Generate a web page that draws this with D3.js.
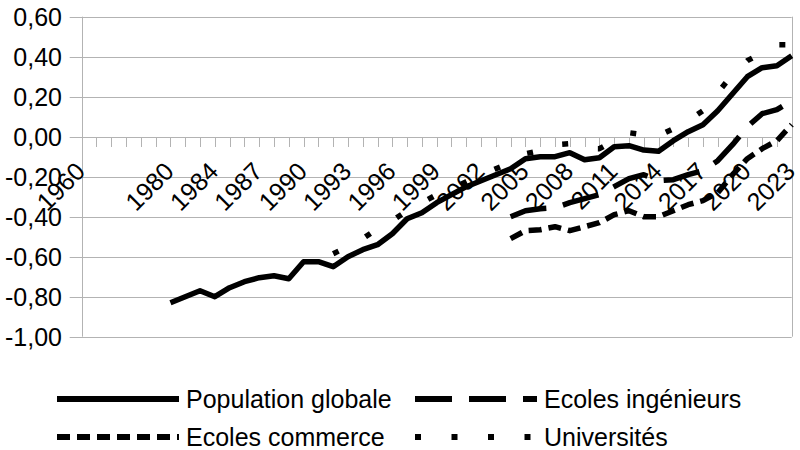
<!DOCTYPE html>
<html>
<head>
<meta charset="utf-8">
<script src="https://cdn.jsdelivr.net/npm/d3@7"></script>
<style>
  body { margin: 0; background: #fff; }
  svg text { font-family: "Liberation Sans", Arial, sans-serif; fill: #000; }
</style>
</head>
<body>
<div id="chart"></div>
<script>
// categories on the x axis (one per point)
const years = ["1960", "1965", "1970", "1975", "1977", "1979", "1980", "1982", "1983"]
    .concat(d3.range(1984, 2024).map(String));
// labels that are actually printed under the axis
const shownLabels = ["1960", "1980", "1984", "1987", "1990", "1993", "1996", "1999", "2002",
    "2005", "2008", "2011", "2014", "2017", "2020", "2023"];
const yTicks = [0.6, 0.4, 0.2, 0, -0.2, -0.4, -0.6, -0.8, -1.0];

const N = null;
const popGlobale = [N, N, N, N, N, N,
    -0.83, -0.80, -0.77, -0.80, -0.755, -0.725, -0.705, -0.695, -0.71, -0.625,
    -0.625, -0.65, -0.60, -0.565, -0.54, -0.485, -0.41, -0.38, -0.33, -0.29,
    -0.25, -0.22, -0.19, -0.16, -0.11, -0.10, -0.10, -0.08, -0.115, -0.105,
    -0.05, -0.045, -0.067, -0.073, -0.02, 0.025, 0.06, 0.13, 0.215, 0.30,
    0.345, 0.355, 0.405];
const ecolesIngenieurs = [N, N, N, N, N, N, N, N, N, N, N, N, N, N, N, N, N, N, N, N,
    N, N, N, N, N, N, N, N, N,
    -0.40, -0.37, -0.36, -0.355, -0.33, -0.31, -0.29, -0.25, -0.21, -0.19, -0.22,
    -0.215, -0.19, -0.17, -0.12, -0.04, 0.05, 0.115, 0.135, 0.18];
const ecolesCommerce = [N, N, N, N, N, N, N, N, N, N, N, N, N, N, N, N, N, N, N, N,
    N, N, N, N, N, N, N, N, N,
    -0.51, -0.47, -0.465, -0.45, -0.47, -0.45, -0.43, -0.39, -0.37, -0.40, -0.40,
    -0.37, -0.34, -0.32, -0.28, -0.19, -0.11, -0.06, -0.02, 0.06];
const universites = [N, N, N, N, N, N, N, N, N, N, N, N, N, N, N, N, N,
    -0.585, -0.55, -0.51, -0.46, -0.42, -0.37, -0.33, -0.29, -0.26, -0.225, -0.19,
    -0.16, -0.13, -0.085, -0.07, -0.04, -0.035, -0.06, -0.06, -0.02, 0.02, 0.01,
    0.005, 0.04, 0.08, 0.13, 0.22, 0.31, 0.38, 0.42, 0.46, 0.46];

const series = [
    {name: "Population globale", values: popGlobale, dash: null},
    {name: "Ecoles ingénieurs", values: ecolesIngenieurs, dash: "37,17"},
    {name: "Ecoles commerce", values: ecolesCommerce, dash: "13,7"},
    {name: "Universités", values: universites, dash: "6,30.5"}
];

const width = 800, height = 450;
const plot = {left: 81.7, right: 791.7, top: 16.7, bottom: 336.7};
const grey = "#b3b3b3";
const fontSize = 25;

const svg = d3.select("#chart").append("svg")
    .attr("width", width)
    .attr("height", height);

const x = d3.scalePoint().domain(years).range([plot.left, plot.right]).padding(0);
const y = d3.scaleLinear().domain([-1, 0.6]).range([plot.bottom, plot.top]);

const fr = d3.formatLocale({decimal: ",", thousands: " ", grouping: [3], currency: ["", " €"], minus: "-"});
const fmt = fr.format(".2f");

// horizontal grid lines
svg.append("g").selectAll("line")
    .data(yTicks)
    .join("line")
    .attr("x1", plot.left - 12)
    .attr("x2", plot.right)
    .attr("y1", d => Math.round(y(d)) + 0.5)
    .attr("y2", d => Math.round(y(d)) + 0.5)
    .attr("stroke", grey)
    .attr("stroke-width", 1);

// left axis and right border
svg.append("line")
    .attr("x1", Math.round(plot.left) + 0.5).attr("x2", Math.round(plot.left) + 0.5)
    .attr("y1", y(0.6)).attr("y2", y(-1))
    .attr("stroke", grey);
svg.append("line")
    .attr("x1", Math.round(plot.right) + 0.5).attr("x2", Math.round(plot.right) + 0.5)
    .attr("y1", y(0.6)).attr("y2", y(-1))
    .attr("stroke", grey);

// y labels
svg.append("g").selectAll("text")
    .data(yTicks)
    .join("text")
    .attr("x", 62)
    .attr("y", d => y(d))
    .attr("dy", "0.36em")
    .attr("text-anchor", "end")
    .style("font-size", fontSize + "px")
    .text(d => fmt(d));

// category ticks on the zero line
svg.append("g").selectAll("line")
    .data(years)
    .join("line")
    .attr("x1", d => Math.round(x(d)) + 0.5)
    .attr("x2", d => Math.round(x(d)) + 0.5)
    .attr("y1", Math.round(y(0)))
    .attr("y2", Math.round(y(0)) + 10)
    .attr("stroke", grey);

// category labels, rotated
svg.append("g").selectAll("text")
    .data(years.filter(d => shownLabels.includes(d)))
    .join("text")
    .attr("text-anchor", "end")
    .attr("transform", d => "translate(" + (x(d) + 5) + "," + 173 + ") rotate(-45)")
    .style("font-size", fontSize + "px")
    .text(d => d);

// series lines
const line = d3.line()
    .defined(d => d != null)
    .x((d, i) => x(years[i]))
    .y(d => y(d));

svg.append("g").selectAll("path")
    .data(series)
    .join("path")
    .attr("d", d => line(d.values))
    .attr("fill", "none")
    .attr("stroke", "#000")
    .attr("stroke-width", 5.5)
    .attr("stroke-linejoin", "round")
    .attr("stroke-dasharray", d => d.dash);

// legend, two rows of two
const legendPos = [
    {x: 57, y: 399}, {x: 415, y: 399},
    {x: 57, y: 437}, {x: 415, y: 437}
];
const legend = svg.append("g").selectAll("g")
    .data(series)
    .join("g")
    .attr("transform", (d, i) => "translate(" + legendPos[i].x + "," + legendPos[i].y + ")");

legend.append("line")
    .attr("x1", 0).attr("x2", 122)
    .attr("y1", 0).attr("y2", 0)
    .attr("stroke", "#000")
    .attr("stroke-width", 6)
    .attr("stroke-dasharray", d => d.dash);

legend.append("text")
    .attr("x", 129)
    .attr("dy", "0.36em")
    .style("font-size", fontSize + "px")
    .text(d => d.name);
</script>
</body>
</html>
